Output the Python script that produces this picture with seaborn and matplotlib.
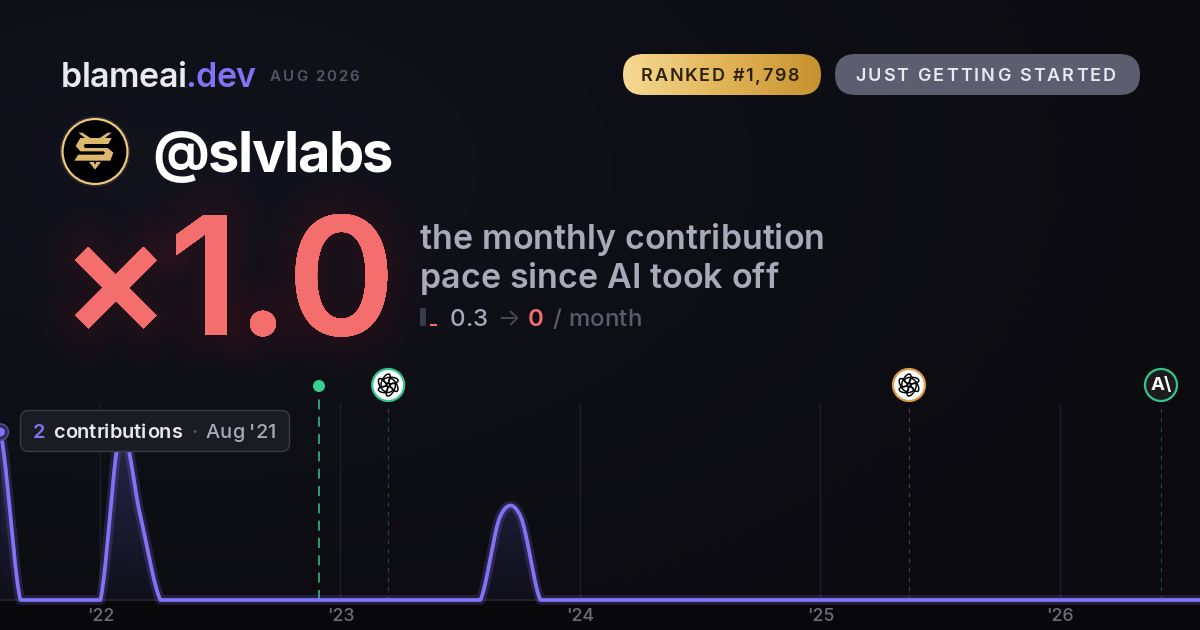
import matplotlib
matplotlib.use("Agg")
import matplotlib.patheffects as pe
import matplotlib.pyplot as plt
import numpy as np
import pandas as pd
import seaborn as sns
from matplotlib.colors import LinearSegmentedColormap
from matplotlib.patches import Circle, Ellipse, FancyBboxPatch, Polygon, Rectangle
from matplotlib.text import Text

# monthly contributions, Aug '21 to Aug '26 (month 0 is Jan '22)
months = list(range(-5, 56))
contributions = [2, 0, 0, 0, 0, 0, 2, 1, 0, 0, 0, 0, 0, 0, 0, 0, 0, 0, 0, 0, 0,
                 0, 0, 0, 0, 1, 1] + [0] * 34
year_ticks = [0, 12, 24, 36, 48]
year_labels = ["'22", "'23", "'24", "'25", "'26"]
launch_month = 10.93
event_months = [14.39, 40.43, 53.03]
event_colors = ["#35c48c", "#dc9c4c", "#35c48c"]

WIDTH, HEIGHT = 1200, 630
BASE_Y = 600
TOP_Y = 403
X0 = 100.4
PX_MONTH = 20.0
PX_UNIT = 84
PURPLE = "#8273f5"
RED = "#f56e6e"
GREY = "#a9a9b9"
DIM = "#5b5b6b"


def month_px(m):
    return X0 + m * PX_MONTH


class SpacedText(Text):
    # one string, drawn with css style letter spacing
    def __init__(self, x, y, text, spacing=0, **kw):
        super().__init__(x, y, text, **kw)
        self.spacing = spacing

    def draw(self, renderer):
        full = self.get_text()
        x0 = self.get_position()[0]
        fp = self.get_fontproperties()
        width = lambda s: renderer.get_text_width_height_descent(s, fp, False)[0]
        for i, ch in enumerate(full):
            if ch == " ":
                continue
            self.set_text(ch)
            self.set_x(x0 + width(full[: i + 1]) - width(ch) + i * self.spacing)
            super().draw(renderer)
        self.set_text(full)
        self.set_x(x0)


def label(x, y, s, px, color, weight="normal", spacing=0, **kw):
    t = SpacedText(x, y, s, spacing=spacing, fontsize=px * 0.72, color=color, weight=weight,
                   family="Inter", va="baseline", ha="left", **kw)
    over.add_artist(t)
    return t


def smooth(xs, ys, steps=24):
    # catmull-rom through the monthly values, clamped at zero like the area below it
    xs, ys = np.asarray(xs, float), np.asarray(ys, float)
    px = np.r_[xs[0] - 1, xs, xs[-1] + 1]
    py = np.r_[ys[0], ys, ys[-1]]
    out_x, out_y = [], []
    t = np.linspace(0, 1, steps, endpoint=False)
    for i in range(1, len(px) - 2):
        p0, p1, p2, p3 = py[i - 1], py[i], py[i + 1], py[i + 2]
        out_x.extend(px[i] + t * (px[i + 1] - px[i]))
        out_y.extend(0.5 * (2 * p1 + (p2 - p0) * t + (2 * p0 - 5 * p1 + 4 * p2 - p3) * t**2
                            + (3 * p1 - p0 - 3 * p2 + p3) * t**3))
    out_x.append(xs[-1])
    out_y.append(ys[-1])
    return np.array(out_x), np.clip(out_y, 0, None)


def knot_icon(cx, cy, ring):
    over.add_patch(Circle((cx, cy), 16, fc="white", ec=ring, lw=1.6, zorder=5))
    for ang in range(0, 360, 60):
        a = np.radians(ang)
        over.add_patch(Ellipse((cx + 5.2 * np.cos(a), cy + 5.2 * np.sin(a)), 14.5, 6.5, angle=ang + 60,
                               fc="none", ec="black", lw=1.05, zorder=6))


sns.set_theme(style="dark")
plt.rcParams["font.family"] = ["Inter", "DejaVu Sans"]

fig = plt.figure(figsize=(WIDTH / 100, HEIGHT / 100), dpi=100)

# background
bg = fig.add_axes([0, 0, 1, 1], zorder=0)
bg.axis("off")
yy, xx = np.mgrid[0:HEIGHT, 0:WIDTH]
dist = np.clip(np.hypot((xx - 170) / 1050, (yy - 170) / 560), 0, 1)
top = np.array([19, 19, 30]) / 255
bottom = np.array([11, 11, 16]) / 255
img = top + (bottom - top) * dist[..., None] ** 0.8
bg.imshow(img, extent=(0, WIDTH, HEIGHT, 0), aspect="auto", interpolation="bilinear")
bg.add_patch(Rectangle((0, BASE_Y), WIDTH, HEIGHT - BASE_Y, fc="#08080b", ec="none"))
bg.set_xlim(0, WIDTH)
bg.set_ylim(HEIGHT, 0)

# chart
ax = fig.add_axes([0, (HEIGHT - BASE_Y) / HEIGHT, 1, (BASE_Y - TOP_Y) / HEIGHT], zorder=1)
ax.patch.set_alpha(0)
sx, sy = smooth(months, contributions)
curve = pd.DataFrame({"month": sx, "contributions": sy})

area = ax.fill_between(sx, 0, sy, color="none")
fade = LinearSegmentedColormap.from_list("fade", [(0.5, 0.44, 0.95, 0.24), (0.5, 0.44, 0.95, 0.04)])
grad = ax.imshow(np.linspace(0, 1, 200)[:, None], cmap=fade, aspect="auto", zorder=1,
                 extent=(months[0], months[-1], 0, 2))
grad.set_clip_path(area.get_paths()[0], ax.transData)

sns.lineplot(data=curve, x="month", y="contributions", ax=ax, sort=False, errorbar=None,
             color=PURPLE, lw=7, alpha=0.2, zorder=3)
sns.lineplot(data=curve, x="month", y="contributions", ax=ax, sort=False, errorbar=None,
             color=PURPLE, lw=2.7, zorder=4)
for line in ax.get_lines():
    line.set_clip_on(False)

ax.set_xlim((0 - X0) / PX_MONTH, (WIDTH - X0) / PX_MONTH)
ax.set_ylim(0, (BASE_Y - TOP_Y) / PX_UNIT)
ax.set_xticks(year_ticks, year_labels, fontsize=12.8, color="#6c6c7a", weight="medium")
ax.set_yticks([])
ax.set_xlabel("")
ax.set_ylabel("")
ax.tick_params(axis="x", length=0, pad=5.5)
ax.grid(axis="x", color="#1d1d25", lw=1)
ax.grid(axis="y", visible=False)
for name, spine in ax.spines.items():
    spine.set_visible(name == "bottom")
    spine.set_color("#26262e")

ax.axvline(launch_month, ymin=0, ymax=1.05, color="#2d9a70", lw=1.45, ls=(0, (5, 3.6)), clip_on=False, zorder=2)
for m, c in zip(event_months, event_colors):
    ax.axvline(m, color=c, alpha=0.4, lw=0.75, ls=(0, (4, 5)), zorder=2)

# overlay in picture pixels
over = fig.add_axes([0, 0, 1, 1], zorder=2)
over.axis("off")
over.set_xlim(0, WIDTH)
over.set_ylim(HEIGHT, 0)

# header
label(61, 87, "blameai", 34, "#e9e9f1", "semibold", spacing=-0.5)
label(185, 87, ".dev", 34, PURPLE, "semibold", spacing=-0.5)
label(270, 81, "AUG 2026", 15, "#565666", "semibold", spacing=2.0)

gold = LinearSegmentedColormap.from_list("gold", ["#f6da93", "#e2b558", "#c6922f"])
pill = FancyBboxPatch((623, 54), 198, 41, boxstyle="round,pad=0,rounding_size=20.5", fc="none", ec="none")
over.add_patch(pill)
gold_img = over.imshow(np.linspace(0, 1, 200)[None, :], cmap=gold, aspect="auto", extent=(623, 821, 95, 54), zorder=1)
gold_img.set_clip_path(pill)
label(641, 81, "RANKED #1,798", 18, "#2c2008", "semibold", spacing=1.65, zorder=3)
over.add_patch(FancyBboxPatch((835, 54), 305, 41, boxstyle="round,pad=0,rounding_size=20.5", fc="#5c5e70", ec="none"))
label(855, 81, "JUST GETTING STARTED", 18, "#e8e9f2", "semibold", spacing=2.1, zorder=3)
over.set_xlim(0, WIDTH)
over.set_ylim(HEIGHT, 0)

# avatar
over.add_patch(Circle((95, 151.5), 34.5, fc="none", ec="#2b2b34", lw=1))
over.add_patch(Circle((95, 151.5), 32.5, fc="black", ec="#f1c877", lw=1.6))
logo = [
    [(70, 62), (82, 62), (106, 78), (90, 78)],
    [(170, 62), (158, 62), (134, 78), (150, 78)],
    [(76, 78), (170, 78), (160, 96), (90, 96), (86, 102), (90, 108), (158, 108), (175, 122),
     (166, 146), (58, 146), (70, 128), (146, 128), (150, 122), (146, 118), (76, 118), (62, 102)],
    [(102, 150), (116, 150), (120, 158), (124, 150), (138, 150), (120, 173)],
]
for poly in logo:
    over.add_patch(Polygon([(55 + x / 3, 112 + y / 3) for x, y in poly], fc="#dcb86c", ec="none"))
label(152, 172, "@slvlabs", 56, "white", "bold", spacing=-1.4)

# big multiplier with a soft glow
glow = [pe.withStroke(linewidth=w, foreground=RED, alpha=0.007) for w in range(56, 2, -4)] + [pe.Normal()]
label(60.5, 335, "×1.0", 164, RED, "semibold", spacing=-1.7, path_effects=glow)

label(420, 249, "the monthly contribution", 34, GREY, "semibold", spacing=0.05)
label(420, 288, "pace since AI took off", 34, GREY, "semibold", spacing=0.05)

over.add_patch(FancyBboxPatch((420, 308), 6, 18, boxstyle="round,pad=0,rounding_size=1.5", fc="#3a3a48", ec="none"))
over.add_patch(Rectangle((430, 324), 7, 1.6, fc=RED, ec="none"))
label(450, 326, "0.3", 24, GREY, "medium")
label(498, 326, "→", 24, "#4a4a58", "normal")
label(528, 326, "0", 24, RED, "semibold")
label(553, 326, "/ month", 24, DIM, "medium")

# event icons
over.add_patch(Circle((month_px(launch_month), 386), 6, fc="#35d08f", ec="none"))
knot_icon(month_px(event_months[0]), 385, event_colors[0])
knot_icon(month_px(event_months[1]), 385, event_colors[1])
over.add_patch(Circle((month_px(event_months[2]), 385), 16, fc="#1c1c1e", ec=event_colors[2], lw=1.6, zorder=5))
over.text(month_px(event_months[2]), 385.5, "A\\", fontsize=13.5, color="white", weight="bold",
          family="Inter", ha="center", va="center", zorder=6)

# hover marker and tooltip
hover_x = month_px(months[0])
over.add_patch(Circle((hover_x, 432), 8, fc="#2e2a52", ec="#4d4788", lw=1.3, zorder=6))
over.add_patch(Circle((hover_x, 432), 4.5, fc=PURPLE, ec="none", zorder=7))
over.add_patch(FancyBboxPatch((20.5, 410.5), 269, 41, boxstyle="round,pad=0,rounding_size=8", fc="#1b1b24", ec="#3a3a42", lw=1, zorder=8))
label(33, 438, str(contributions[0]), 20, PURPLE, "semibold", zorder=9)
label(53, 438, "contributions", 20, "#e8e8f0", "semibold", zorder=9)
label(191.5, 438, "·", 20, DIM, "medium", zorder=9)
label(206, 438, "Aug '21", 20, GREY, "medium", spacing=-0.2, zorder=9)

fig.savefig("out.png", dpi=100, facecolor="#0b0b10")
